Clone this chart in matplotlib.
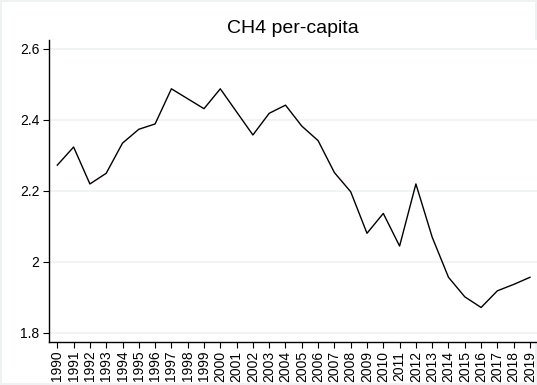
import matplotlib
matplotlib.use("Agg")
import matplotlib.pyplot as plt
from matplotlib.ticker import FuncFormatter

years = list(range(1990, 2020))
ch4_per_capita = [2.272, 2.323, 2.219, 2.249, 2.334, 2.373, 2.388, 2.487, 2.459, 2.431,
                  2.487, 2.422, 2.357, 2.418, 2.441, 2.382, 2.341, 2.251, 2.197, 2.080,
                  2.136, 2.044, 2.219, 2.069, 1.956, 1.901, 1.871, 1.918, 1.936, 1.956]
y_ticks = [1.8, 2.0, 2.2, 2.4, 2.6]

plt.rcParams['font.family'] = ['Liberation Sans', 'DejaVu Sans']

fig = plt.figure(figsize=(5.37, 3.85), dpi=100)
fig.patch.set_facecolor('white')
fig.patch.set_edgecolor('#eef2f2')
fig.patch.set_linewidth(1.5)

ax = fig.add_axes([48.5 / 537, (385 - 341.7) / 385, (537 - 48.5) / 537, (341.7 - 40) / 385])
ax.plot(years, ch4_per_capita, color='black', linewidth=1.0)

ax.set_xlim(1989.46, 2019.43)
ax.set_ylim(1.7746, 2.6245)
ax.set_xticks(years)
ax.set_xticklabels([str(y) for y in years], rotation=90)
ax.set_yticks(y_ticks)
ax.yaxis.set_major_formatter(FuncFormatter(lambda v, p: f"{v:g}"))

ax.grid(axis='y', color='#eef2f2', linewidth=1.2)
ax.set_axisbelow(True)
for side in ('top', 'right'):
    ax.spines[side].set_visible(False)
for side in ('left', 'bottom'):
    ax.spines[side].set_linewidth(1.0)
    ax.spines[side].set_color('black')
ax.tick_params(axis='both', direction='out', length=4.5, width=0.8, labelsize=10, pad=2)

ax.set_title('CH4 per-capita', fontsize=14, pad=5)

fig.savefig('out.png', dpi=100)
